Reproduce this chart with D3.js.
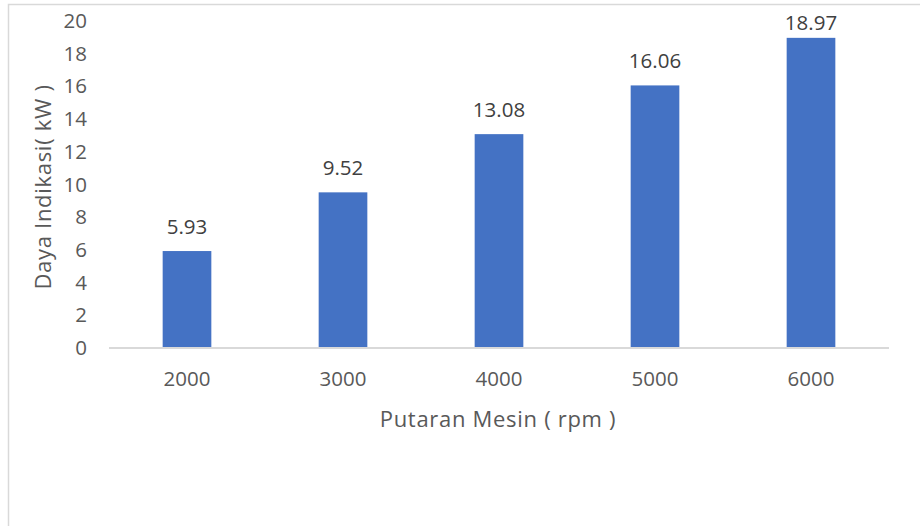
<!DOCTYPE html>
<html>
<head>
<meta charset="utf-8">
<script src="https://cdn.jsdelivr.net/npm/d3@7"></script>
<style>
  html, body { margin: 0; padding: 0; background: #fff; }
  svg { display: block; font-family: "Open Sans", "Liberation Sans", sans-serif; }
</style>
</head>
<body>
<svg id="chart" width="920" height="526"></svg>
<script>
// Engine speed (rpm) and indicated power (kW)
const categories = ["2000", "3000", "4000", "5000", "6000"];
const values = [5.93, 9.52, 13.08, 16.06, 18.97];
const yTicks = [0, 2, 4, 6, 8, 10, 12, 14, 16, 18, 20];
const xTitle = "Putaran Mesin ( rpm )";
const yTitle = "Daya Indikasi( kW )";

const svg = d3.select("#chart");
const plot = { left: 109, right: 889, top: 21, bottom: 348 };

// outer chart frame (continues past the right and bottom edges)
svg.append("rect")
  .attr("x", 8.5).attr("y", 4.5)
  .attr("width", 1200).attr("height", 800)
  .attr("fill", "none").attr("stroke", "#d9d9d9").attr("stroke-width", 1.5);

const x = d3.scaleBand()
  .domain(categories)
  .range([plot.left, plot.right])
  .paddingInner(0.688)
  .paddingOuter(0.344);

const y = d3.scaleLinear()
  .domain([0, 20])
  .range([plot.bottom, plot.top]);

// bars
svg.append("g").selectAll("rect")
  .data(values)
  .join("rect")
  .attr("x", (d, i) => x(categories[i]))
  .attr("y", d => y(d))
  .attr("width", x.bandwidth())
  .attr("height", d => y(0) - y(d))
  .attr("fill", "#4472c4");

// category axis line
svg.append("line")
  .attr("x1", plot.left).attr("x2", plot.right)
  .attr("y1", plot.bottom).attr("y2", plot.bottom)
  .attr("stroke", "#d9d9d9").attr("stroke-width", 2);

// y tick labels
const yAxis = d3.axisLeft(y).tickValues(yTicks).tickSize(0).tickPadding(0);
const gy = svg.append("g").attr("transform", "translate(87,0)").call(yAxis);
gy.select(".domain").remove();
gy.selectAll("text")
  .attr("fill", "#595959")
  .style("font-size", "20.5px")
  .style("font-family", "'Open Sans', sans-serif");

// x tick labels
const xAxis = d3.axisBottom(x).tickSize(0).tickPadding(0);
const gx = svg.append("g").attr("transform", `translate(0,${plot.bottom})`).call(xAxis);
gx.select(".domain").remove();
gx.selectAll("text")
  .attr("dy", null)
  .attr("y", 38)
  .attr("fill", "#595959")
  .style("font-size", "20.5px")
  .style("font-family", "'Open Sans', sans-serif");

// value labels above bars, kept inside the chart area
svg.append("g").selectAll("text")
  .data(values)
  .join("text")
  .attr("x", (d, i) => x(categories[i]) + x.bandwidth() / 2)
  .attr("y", d => Math.max(y(d) - 17.5, 29.5))
  .attr("text-anchor", "middle")
  .attr("fill", "#404040")
  .style("font-size", "20.5px")
  .text(d => d.toFixed(2));

// axis titles
svg.append("text")
  .attr("x", 498)
  .attr("y", 426.5)
  .attr("text-anchor", "middle")
  .attr("fill", "#595959")
  .style("font-size", "22px")
  .style("letter-spacing", "0.7px")
  .text(xTitle);

svg.append("text")
  .attr("transform", `translate(51,187) rotate(-90)`)
  .attr("text-anchor", "middle")
  .attr("fill", "#595959")
  .style("font-size", "22px")
  .style("letter-spacing", "0.7px")
  .text(yTitle);
</script>
</body>
</html>
